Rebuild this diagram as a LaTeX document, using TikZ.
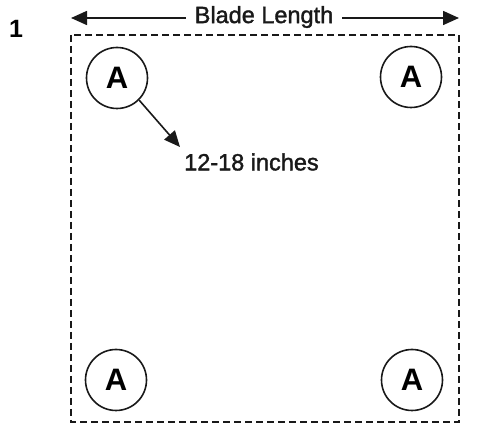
\documentclass[tikz,border=0pt]{standalone}
\usepackage{fontspec}
\setmainfont{Liberation Sans}
\newfontfamily\medfont[FakeBold=1.6]{Liberation Sans}
\usetikzlibrary{arrows.meta}
\begin{document}
\begin{tikzpicture}[x=1pt,y=-1pt,
  frame/.style={draw=black!90, line width=2pt, dash pattern=on 7pt off 4pt},
  marker/.style={draw=black!90, circle, line width=1.6pt, minimum size=61pt, inner sep=0pt, font=\fontsize{31}{31}\selectfont\bfseries},
  lbl/.style={font=\medfont\fontsize{23.5}{23.5}\selectfont, inner sep=0pt, text=black!90},
  arr/.style={draw=black!90, line width=1.6pt, -{Triangle[length=16pt,width=14pt]}}]
\useasboundingbox (0,0) rectangle (480,435);
\node[font=\fontsize{25}{25}\selectfont\bfseries, inner sep=0pt] (num) at (16,29) {1};
\draw[frame] (71,35) rectangle (459,422);
\node[lbl] (blade) at (264,17) {Blade Length};
\coordinate (bl) at (71,18);
\coordinate (br) at (459,18);
\draw[arr] (blade.west) ++(-9,1) -- (bl);
\draw[arr] (blade.east) ++(9,1) -- (br);
\node[marker] (a1) at (117,78) {A};
\node[marker] (a2) at (411,77) {A};
\node[marker] (a3) at (116,380) {A};
\node[marker] (a4) at (412,380) {A};
\node[lbl, anchor=west] (len) at (184,162) {12-18 inches};
\coordinate (tip) at (180,147);
\draw[arr] (a1.-45) -- (tip);
\end{tikzpicture}
\end{document}
